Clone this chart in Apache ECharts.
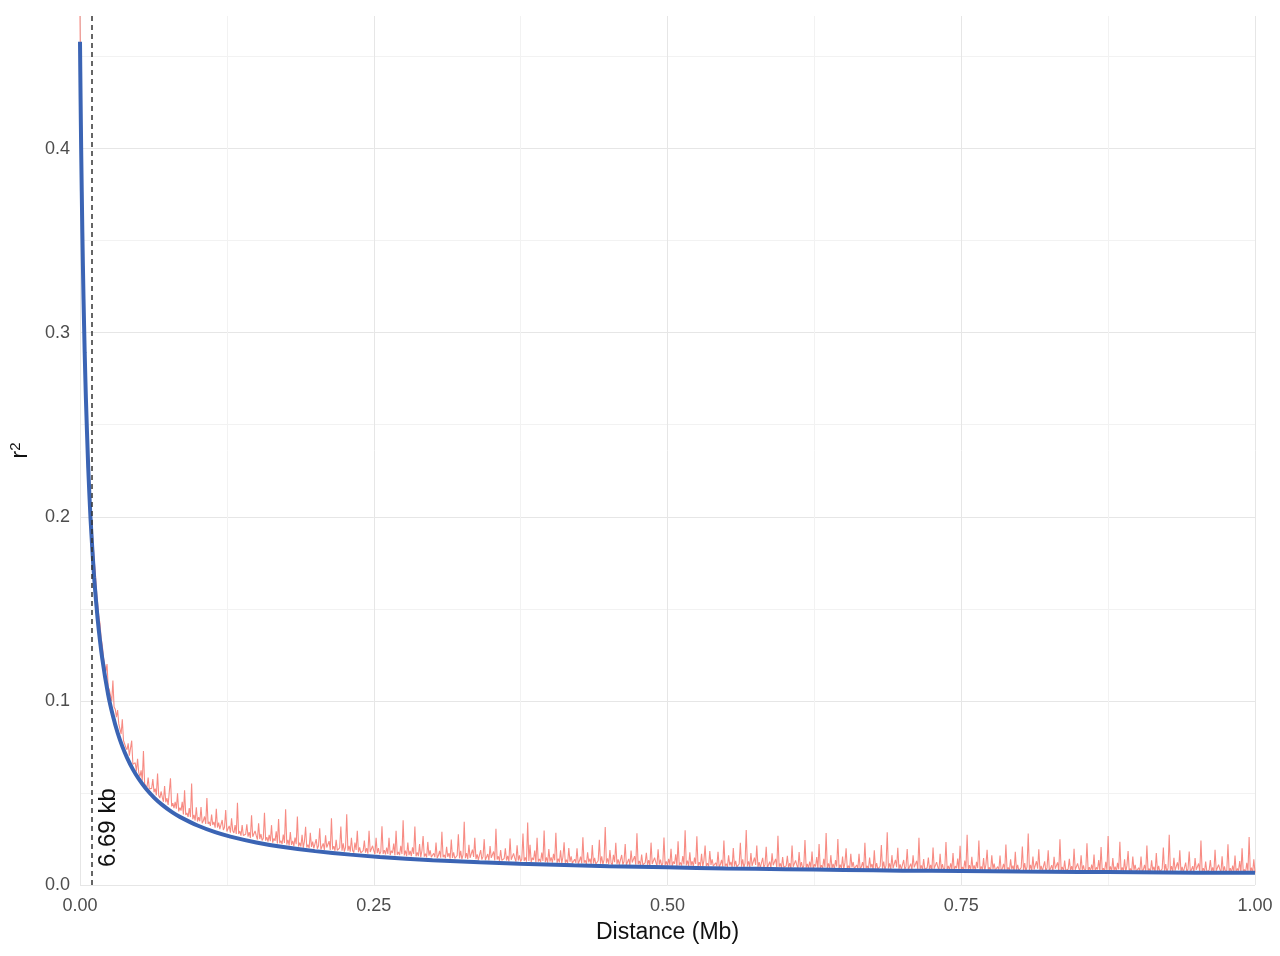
<!DOCTYPE html>
<html>
<head>
<meta charset="utf-8">
<script src="https://cdn.jsdelivr.net/npm/echarts@6/dist/echarts.min.js"></script>
<style>
  html, body { margin: 0; padding: 0; background: #fff; }
  #chart { width: 1280px; height: 956px; }
</style>
</head>
<body>
<div id="chart"></div>
<script>
// fitted decay curve (Mb, r2)
var fitDist = [0, 0.0005, 0.001, 0.002, 0.003, 0.004, 0.005, 0.007, 0.009, 0.012, 0.015, 0.019, 0.024, 0.028, 0.032, 0.036, 0.04, 0.045, 0.05, 0.056, 0.063, 0.07, 0.078, 0.085, 0.1, 0.115, 0.128, 0.15, 0.17, 0.2, 0.23, 0.255, 0.3, 0.34, 0.374, 0.42, 0.45, 0.5, 0.55, 0.6, 0.65, 0.7, 0.75, 0.8, 0.85, 0.9, 0.95, 1.0];
var fitR2 = [0.458, 0.4267, 0.3994, 0.3542, 0.3183, 0.289, 0.2647, 0.2267, 0.1984, 0.1672, 0.1446, 0.1227, 0.1033, 0.0919, 0.0827, 0.0753, 0.0692, 0.0628, 0.0576, 0.0524, 0.0475, 0.0435, 0.0397, 0.037, 0.0323, 0.0287, 0.0263, 0.0231, 0.0209, 0.0184, 0.0165, 0.0152, 0.0135, 0.0124, 0.0116, 0.0107, 0.0102, 0.0096, 0.009, 0.0086, 0.0082, 0.0078, 0.0076, 0.0073, 0.0071, 0.0069, 0.0067, 0.0066];

// raw mean r2 (x 10^4), one value per 1 kb from 0 to 1 Mb
var rawStep = 0.001;
var rawR2e4 = [
  4720, 3980, 3470, 3080, 2870, 2680, 2510, 2370, 2220, 2070, 1970, 1870, 1770, 1700, 1600, 1530, 1460, 1420, 1340, 1300,
  1235, 1230, 1160, 1200, 1075, 1060, 1070, 998, 1110, 967, 955, 911, 950, 875, 875, 820, 900, 785, 795, 747,
  735, 769, 702, 704, 784, 656, 652, 664, 617, 686, 610, 589, 623, 566, 728, 550, 560, 530, 583, 522,
  516, 525, 575, 504, 523, 487, 606, 485, 472, 508, 477, 453, 537, 449, 472, 435, 444, 580, 427, 444,
  418, 451, 414, 498, 400, 420, 404, 452, 383, 514, 380, 391, 370, 418, 369, 551, 357, 381, 350, 422,
  345, 368, 346, 423, 336, 349, 372, 332, 472, 332, 343, 321, 383, 326, 343, 311, 414, 312, 339, 304,
  305, 353, 299, 314, 407, 291, 298, 321, 284, 362, 295, 283, 326, 277, 447, 277, 293, 268, 326, 269,
  264, 276, 330, 263, 287, 255, 379, 262, 254, 294, 268, 247, 335, 250, 277, 242, 254, 392, 241, 260,
  236, 272, 238, 325, 230, 253, 240, 291, 225, 358, 227, 241, 223, 274, 228, 412, 220, 245, 215, 287,
  218, 240, 211, 258, 222, 372, 209, 230, 209, 273, 202, 237, 316, 204, 219, 200, 283, 207, 236, 199,
  200, 249, 197, 213, 308, 193, 201, 226, 190, 270, 204, 194, 238, 190, 362, 193, 211, 186, 245, 188,
  185, 202, 317, 186, 226, 181, 205, 384, 186, 213, 181, 257, 187, 176, 231, 190, 295, 178, 204, 174,
  173, 187, 241, 176, 200, 170, 294, 179, 171, 213, 187, 168, 256, 173, 200, 167, 180, 319, 169, 189,
  166, 203, 169, 257, 163, 186, 174, 225, 160, 295, 164, 179, 162, 213, 168, 352, 161, 187, 157, 231,
  162, 185, 156, 204, 169, 318, 156, 177, 157, 222, 151, 186, 266, 154, 170, 150, 234, 159, 188, 151,
  147, 172, 151, 231, 146, 160, 185, 148, 289, 151, 164, 145, 208, 153, 173, 143, 247, 147, 177, 144,
  143, 161, 275, 145, 185, 140, 164, 344, 146, 173, 141, 218, 147, 137, 192, 152, 256, 140, 166, 137,
  140, 190, 138, 154, 249, 135, 143, 168, 133, 212, 147, 137, 182, 134, 306, 138, 156, 131, 190, 134,
  130, 144, 199, 133, 158, 128, 252, 137, 130, 172, 146, 127, 216, 133, 161, 127, 140, 280, 130, 150,
  127, 339, 131, 218, 124, 148, 136, 187, 122, 257, 127, 142, 124, 176, 131, 296, 124, 150, 121, 195,
  127, 150, 121, 169, 134, 284, 121, 143, 123, 188, 118, 152, 232, 121, 137, 118, 201, 126, 156, 119,
  116, 140, 120, 200, 115, 130, 154, 117, 259, 121, 134, 114, 178, 123, 143, 113, 217, 117, 147, 114,
  114, 132, 246, 116, 156, 112, 136, 315, 117, 145, 113, 190, 120, 109, 164, 124, 229, 113, 139, 110,
  114, 163, 111, 128, 223, 109, 118, 142, 107, 187, 122, 112, 157, 110, 281, 113, 131, 107, 166, 110,
  107, 120, 175, 110, 135, 105, 230, 114, 107, 149, 124, 105, 194, 111, 138, 105, 118, 258, 108, 128,
  105, 142, 109, 197, 103, 127, 115, 167, 102, 237, 107, 122, 105, 157, 112, 297, 106, 132, 103, 177,
  106, 129, 101, 149, 114, 264, 102, 124, 104, 169, 99, 134, 214, 103, 119, 100, 184, 109, 139, 102,
  96, 121, 101, 181, 96, 111, 136, 99, 241, 103, 116, 97, 161, 106, 126, 96, 201, 101, 131, 98,
  96, 114, 229, 99, 139, 95, 119, 299, 101, 129, 97, 174, 104, 94, 149, 109, 214, 98, 124, 95,
  97, 147, 95, 112, 207, 93, 102, 127, 92, 172, 107, 97, 142, 95, 267, 99, 117, 93, 152, 96,
  90, 104, 159, 94, 119, 89, 214, 99, 92, 134, 109, 90, 179, 96, 124, 91, 104, 244, 94, 114,
  90, 127, 94, 182, 88, 112, 100, 152, 87, 222, 92, 107, 90, 142, 97, 282, 91, 117, 88, 162,
  92, 115, 87, 135, 100, 250, 88, 110, 90, 155, 85, 120, 200, 89, 105, 86, 170, 95, 125, 88,
  84, 109, 89, 169, 84, 99, 124, 87, 229, 91, 104, 85, 149, 94, 114, 84, 189, 89, 119, 86,
  84, 102, 217, 87, 127, 83, 107, 287, 89, 117, 85, 162, 92, 82, 137, 97, 202, 86, 112, 83,
  86, 136, 84, 101, 196, 82, 91, 116, 81, 161, 96, 86, 131, 84, 256, 88, 106, 82, 141, 85,
  80, 94, 149, 84, 109, 79, 204, 89, 82, 124, 99, 80, 169, 86, 114, 81, 94, 234, 84, 104,
  81, 118, 85, 173, 79, 103, 91, 143, 78, 213, 83, 98, 81, 133, 88, 273, 82, 108, 79, 153,
  83, 106, 78, 126, 91, 241, 79, 101, 81, 146, 76, 111, 191, 80, 96, 77, 161, 86, 116, 79,
  75, 100, 80, 160, 75, 90, 115, 78, 220, 82, 95, 76, 140, 85, 105, 75, 180, 80, 110, 77,
  76, 94, 209, 79, 119, 75, 99, 279, 81, 109, 77, 154, 84, 74, 129, 89, 194, 78, 104, 75,
  78, 128, 76, 93, 188, 74, 83, 108, 73, 153, 88, 78, 123, 76, 248, 80, 98, 74, 133, 77,
  73, 87, 142, 77, 102, 72, 197, 82, 75, 117, 92, 73, 162, 79, 107, 74, 87, 227, 77, 97,
  74, 111, 78, 166, 72, 96, 84, 136, 71, 206, 76, 91, 74, 126, 81, 266, 75, 101, 72, 146,
  77, 100, 72, 120, 85, 235, 73, 95, 75, 140, 70, 105, 185, 74, 90, 71, 155, 80, 110, 73,
  69, 94, 74, 154, 69, 84, 109, 72, 214, 76, 89, 70, 134, 79, 99, 69, 174, 74, 104, 71,
  70, 88, 203, 73, 113, 69, 93, 273, 75, 103, 71, 148, 78, 68, 123, 83, 188, 72, 98, 69,
  72, 122, 70, 87, 182, 68, 77, 102, 67, 147, 82, 72, 117, 70, 242, 74, 92, 68, 127, 71,
  67, 81, 136, 71, 96, 66, 191, 76, 69, 111, 86, 67, 156, 73, 101, 68, 81, 221, 71, 91,
  68, 105, 72, 160, 66, 90, 78, 130, 65, 200, 70, 85, 68, 120, 75, 260, 69, 95, 66, 140,
  68
];

var ldDecay = 0.00669; // Mb, half-decay distance
var ldLabel = '6.69 kb';

var rawData = [];
for (var i = 0; i < rawR2e4.length; i++) {
    rawData.push([i * rawStep, rawR2e4[i] / 10000]);
}
var fitData = [];
for (var j = 0; j < fitDist.length; j++) {
    fitData.push([fitDist[j], fitR2[j]]);
}

var font = '"Liberation Sans", Arial, sans-serif';
var gridMajor = '#e6e6e6';
var gridMinor = '#f2f2f2';
var chart = echarts.init(document.getElementById('chart'), null, { renderer: 'canvas' });

var option = {
    animation: false,
    backgroundColor: '#ffffff',
    grid: { left: 80, right: 25, top: 16, bottom: 71, containLabel: false, outerBoundsMode: 'none' },
    xAxis: {
        type: 'value',
        min: 0,
        max: 1,
        interval: 0.25,
        name: 'Distance (Mb)',
        nameLocation: 'middle',
        nameGap: 36,
        nameTextStyle: { fontFamily: font, fontSize: 23, color: '#111' },
        axisLine: { show: false },
        axisTick: { show: false },
        axisLabel: {
            fontFamily: font, fontSize: 18, color: '#4d4d4d', margin: 12,
            formatter: function (v) { return v.toFixed(2); }
        },
        splitLine: { show: true, lineStyle: { color: gridMajor, width: 1 } },
        minorTick: { show: false, splitNumber: 2 },
        minorSplitLine: { show: true, lineStyle: { color: gridMinor, width: 1 } }
    },
    yAxis: {
        type: 'value',
        min: 0,
        max: 0.472,
        interval: 0.1,
        name: 'r{sup|2}',
        nameLocation: 'middle',
        nameGap: 46,
        nameRotate: 90,
        nameTextStyle: {
            fontFamily: font, fontSize: 23, color: '#111',
            rich: { sup: { fontFamily: font, fontSize: 15, color: '#111', verticalAlign: 'top', padding: [0, 0, 11, 0] } }
        },
        axisLine: { show: false },
        axisTick: { show: false },
        axisLabel: {
            fontFamily: font, fontSize: 18, color: '#4d4d4d', margin: 10,
            showMaxLabel: false,
            formatter: function (v) { return v.toFixed(1); }
        },
        // last colour hides the line at the top edge of the panel
        splitLine: { show: true, lineStyle: { color: [gridMajor, gridMajor, gridMajor, gridMajor, gridMajor, 'rgba(0,0,0,0)'], width: 1 } },
        minorTick: { show: false, splitNumber: 2 },
        minorSplitLine: { show: true, lineStyle: { color: gridMinor, width: 1 } }
    },
    series: [
        {
            name: 'raw',
            type: 'line',
            data: rawData,
            showSymbol: false,
            lineStyle: { color: '#f4645a', width: 1.1, opacity: 0.75 },
            z: 2,
            markLine: {
                silent: true,
                symbol: ['none', 'none'],
                lineStyle: { color: '#333333', type: [5, 4], width: 1.5 },
                label: {
                    show: true,
                    position: 'insideStartBottom',
                    formatter: ldLabel,
                    fontFamily: font,
                    fontSize: 24,
                    color: '#111',
                    distance: [18, 5]
                },
                data: [{ xAxis: ldDecay }]
            }
        },
        {
            name: 'fit',
            type: 'line',
            data: fitData,
            showSymbol: false,
            smooth: 0.2,
            lineStyle: { color: '#3b64b4', width: 4 },
            z: 3
        }
    ]
};

chart.setOption(option);
</script>
</body>
</html>
